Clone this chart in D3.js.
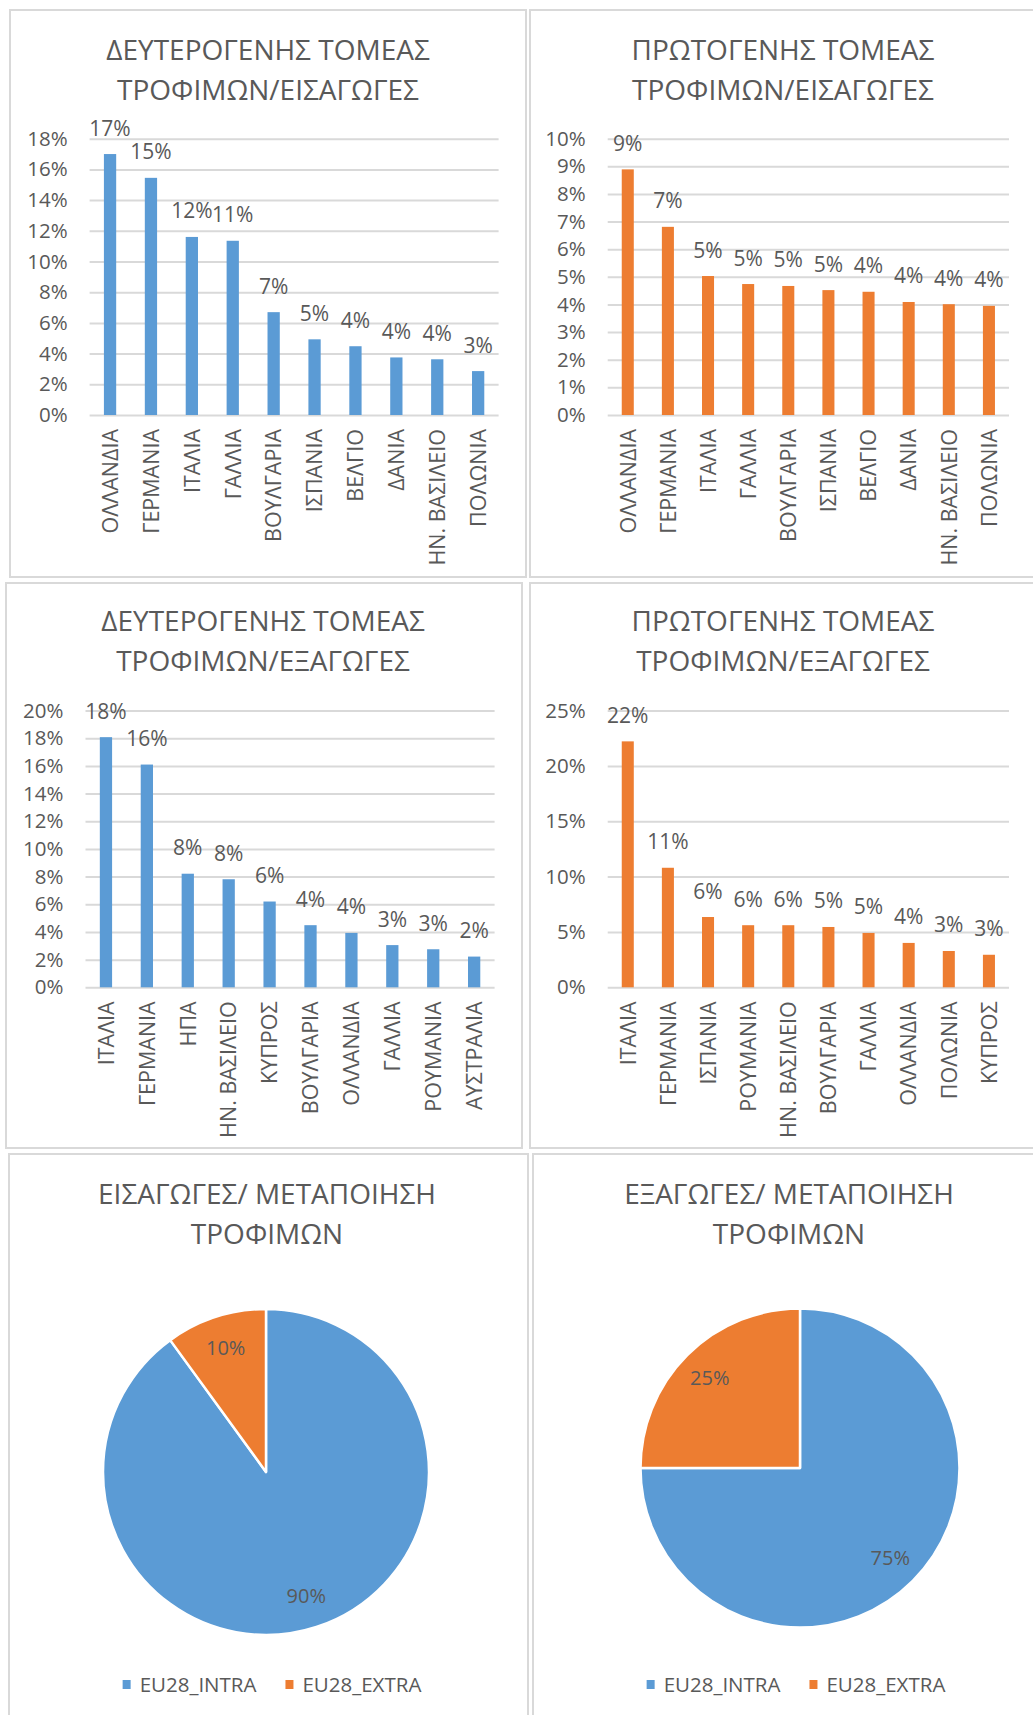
<!DOCTYPE html>
<html>
<head>
<meta charset="utf-8">
<script src="https://cdn.jsdelivr.net/npm/d3@7"></script>
<style>
  body { margin: 0; background: #fff; }
  svg text { font-family: "Open Sans", "Noto Sans", sans-serif; fill: #595959; }
</style>
</head>
<body>
<div id="charts"></div>
<script>
// chart 1 - secondary sector / imports
var secImpCats = ["ΟΛΛΑΝΔΙΑ", "ΓΕΡΜΑΝΙΑ", "ΙΤΑΛΙΑ", "ΓΑΛΛΙΑ", "ΒΟΥΛΓΑΡΙΑ", "ΙΣΠΑΝΙΑ", "ΒΕΛΓΙΟ", "ΔΑΝΙΑ", "ΗΝ. ΒΑΣΙΛΕΙΟ", "ΠΟΛΩΝΙΑ"];
var secImpVals = [17.0, 15.45, 11.6, 11.35, 6.7, 4.93, 4.48, 3.75, 3.63, 2.86];
var secImpTicks = [0, 2, 4, 6, 8, 10, 12, 14, 16, 18];

// chart 2 - primary sector / imports
var priImpCats = ["ΟΛΛΑΝΔΙΑ", "ΓΕΡΜΑΝΙΑ", "ΙΤΑΛΙΑ", "ΓΑΛΛΙΑ", "ΒΟΥΛΓΑΡΙΑ", "ΙΣΠΑΝΙΑ", "ΒΕΛΓΙΟ", "ΔΑΝΙΑ", "ΗΝ. ΒΑΣΙΛΕΙΟ", "ΠΟΛΩΝΙΑ"];
var priImpVals = [8.89, 6.81, 5.03, 4.74, 4.67, 4.52, 4.46, 4.09, 4.01, 3.95];
var priImpTicks = [0, 1, 2, 3, 4, 5, 6, 7, 8, 9, 10];

// chart 3 - secondary sector / exports
var secExpCats = ["ΙΤΑΛΙΑ", "ΓΕΡΜΑΝΙΑ", "ΗΠΑ", "ΗΝ. ΒΑΣΙΛΕΙΟ", "ΚΥΠΡΟΣ", "ΒΟΥΛΓΑΡΙΑ", "ΟΛΛΑΝΔΙΑ", "ΓΑΛΛΙΑ", "ΡΟΥΜΑΝΙΑ", "ΑΥΣΤΡΑΛΙΑ"];
var secExpVals = [18.08, 16.1, 8.21, 7.81, 6.2, 4.49, 3.93, 3.05, 2.75, 2.22];
var secExpTicks = [0, 2, 4, 6, 8, 10, 12, 14, 16, 18, 20];

// chart 4 - primary sector / exports
var priExpCats = ["ΙΤΑΛΙΑ", "ΓΕΡΜΑΝΙΑ", "ΙΣΠΑΝΙΑ", "ΡΟΥΜΑΝΙΑ", "ΗΝ. ΒΑΣΙΛΕΙΟ", "ΒΟΥΛΓΑΡΙΑ", "ΓΑΛΛΙΑ", "ΟΛΛΑΝΔΙΑ", "ΠΟΛΩΝΙΑ", "ΚΥΠΡΟΣ"];
var priExpVals = [22.22, 10.8, 6.35, 5.61, 5.61, 5.45, 4.91, 4.01, 3.28, 2.94];
var priExpTicks = [0, 5, 10, 15, 20, 25];

// pies
var pieCats = ["EU28_INTRA", "EU28_EXTRA"];
var pieImpVals = [90, 10];
var pieExpVals = [75, 25];

var blue = "#5B9BD5", orange = "#ED7D31", grid = "#D9D9D9";

var svg = d3.select("#charts")
            .append("svg")
            .attr("width", 1033)
            .attr("height", 1715);

function panel(x, y, w, h) {
    svg.append("rect")
       .attr("x", x).attr("y", y)
       .attr("width", w).attr("height", h)
       .attr("fill", "#fff")
       .attr("stroke", grid)
       .attr("stroke-width", 2);
}

function title(lines, cx, y) {
    var t = svg.append("text")
               .attr("text-anchor", "middle")
               .style("font-size", "28px");
    lines.forEach(function(l, i) {
        t.append("tspan").attr("x", cx).attr("y", y + i * 39.5).text(l);
    });
}

var barChart = function(c) {
    panel(c.panel[0], c.panel[1], c.panel[2], c.panel[3]);
    title(c.title, c.titleX, c.titleY);

    var g = svg.append("g");
    var xScale = d3.scaleBand()
                   .domain(c.cats)
                   .range([c.left, c.right])
                   .paddingInner(0.7)
                   .paddingOuter(0.35);
    var yScale = d3.scaleLinear()
                   .domain([0, d3.max(c.ticks)])
                   .range([c.bottom, c.top]);

    // gridlines + y labels
    var yAxis = g.append("g")
                 .attr("transform", "translate(" + c.left + ",0)")
                 .call(d3.axisLeft(yScale)
                         .tickValues(c.ticks)
                         .tickSize(-(c.right - c.left))
                         .tickPadding(22)
                         .tickFormat(d => d + "%"));
    yAxis.select(".domain").remove();
    yAxis.selectAll("line").attr("stroke", grid).attr("stroke-width", 2);
    yAxis.selectAll("text")
         .attr("fill", null)
         .style("font-size", "20.5px")
         .style("font-family", null);

    var xAxis = g.append("g")
                 .attr("transform", "translate(0," + c.bottom + ")")
                 .call(d3.axisBottom(xScale).tickSize(0));
    xAxis.select(".domain").remove();
    xAxis.selectAll("text")
         .attr("fill", null)
         .style("font-size", "21.5px")
         .style("font-family", null)
         .attr("transform", "rotate(-90)")
         .attr("x", -14)
         .attr("y", 0)
         .attr("dy", "0.36em")
         .style("text-anchor", "end");

    var data = c.cats.map((d, i) => [d, c.vals[i]]);
    g.selectAll(".bar")
     .data(data)
     .enter()
     .append("rect")
     .attr("x", d => xScale(d[0]))
     .attr("y", d => yScale(d[1]))
     .attr("width", xScale.bandwidth())
     .attr("height", d => c.bottom - yScale(d[1]))
     .attr("fill", c.color);

    g.selectAll(".lbl")
     .data(data)
     .enter()
     .append("text")
     .attr("x", d => xScale(d[0]) + xScale.bandwidth() / 2)
     .attr("y", d => yScale(d[1]) - 18.5)
     .attr("text-anchor", "middle")
     .style("font-size", "21px")
     .text(d => Math.round(d[1]) + "%");
}

var pieChart = function(c) {
    panel(c.panel[0], c.panel[1], c.panel[2], c.panel[3]);
    title(c.title, c.titleX, c.titleY);

    var colors = d3.scaleOrdinal().domain(pieCats).range([blue, orange]);
    var data = pieCats.map((d, i) => ({name: d, value: c.vals[i]}));
    var arcs = d3.pie().sort(null).value(d => d.value)(data);
    var arc = d3.arc().innerRadius(0).outerRadius(c.r);
    var lblArc = d3.arc().innerRadius(c.r * 0.8).outerRadius(c.r * 0.8);

    var g = svg.append("g")
               .attr("transform", "translate(" + c.cx + "," + c.cy + ")");
    g.selectAll("path")
     .data(arcs)
     .enter()
     .append("path")
     .attr("d", arc)
     .attr("fill", d => colors(d.data.name))
     .attr("stroke", "#fff")
     .attr("stroke-width", 2.5)
     .attr("stroke-linejoin", "round");
    g.selectAll("text")
     .data(arcs)
     .enter()
     .append("text")
     .attr("transform", d => "translate(" + lblArc.centroid(d) + ")")
     .attr("text-anchor", "middle")
     .attr("dy", "0.35em")
     .style("font-size", "20px")
     .text(d => Math.round(d.data.value) + "%");

    // legend, centered on c.legendX
    var leg = svg.append("g");
    var xPos = 0;
    pieCats.forEach(function(name, i) {
        var item = leg.append("g").attr("transform", "translate(" + xPos + ",0)");
        item.append("rect")
            .attr("x", 0).attr("y", -4.5)
            .attr("width", 8).attr("height", 9)
            .attr("fill", colors(name));
        var t = item.append("text")
                    .attr("x", 17)
                    .attr("dy", "0.35em")
                    .style("font-size", "20.5px")
                    .text(name);
        xPos += 17 + t.node().getComputedTextLength() + 29;
    });
    var legW = xPos - 29;
    leg.attr("transform", "translate(" + (c.legendX - legW / 2) + "," + c.legendY + ")");
}

barChart({panel: [10, 10, 516, 567], title: ["ΔΕΥΤΕΡΟΓΕΝΗΣ ΤΟΜΕΑΣ", "ΤΡΟΦΙΜΩΝ/ΕΙΣΑΓΩΓΕΣ"], titleX: 268, titleY: 60,
          left: 89.6, right: 498.6, top: 138.7, bottom: 415,
          cats: secImpCats, vals: secImpVals, ticks: secImpTicks, color: blue});
barChart({panel: [530, 10, 516, 567], title: ["ΠΡΩΤΟΓΕΝΗΣ ΤΟΜΕΑΣ", "ΤΡΟΦΙΜΩΝ/ΕΙΣΑΓΩΓΕΣ"], titleX: 783, titleY: 60,
          left: 607.7, right: 1009, top: 138.7, bottom: 415,
          cats: priImpCats, vals: priImpVals, ticks: priImpTicks, color: orange});
barChart({panel: [6, 583, 516, 565], title: ["ΔΕΥΤΕΡΟΓΕΝΗΣ ΤΟΜΕΑΣ", "ΤΡΟΦΙΜΩΝ/ΕΞΑΓΩΓΕΣ"], titleX: 263, titleY: 631,
          left: 85.5, right: 494.6, top: 710.6, bottom: 987.3,
          cats: secExpCats, vals: secExpVals, ticks: secExpTicks, color: blue});
barChart({panel: [530, 583, 516, 565], title: ["ΠΡΩΤΟΓΕΝΗΣ ΤΟΜΕΑΣ", "ΤΡΟΦΙΜΩΝ/ΕΞΑΓΩΓΕΣ"], titleX: 783, titleY: 631,
          left: 607.7, right: 1009, top: 710.6, bottom: 987.3,
          cats: priExpCats, vals: priExpVals, ticks: priExpTicks, color: orange});

pieChart({panel: [9, 1154, 519, 600], title: ["ΕΙΣΑΓΩΓΕΣ/ ΜΕΤΑΠΟΙΗΣΗ", "ΤΡΟΦΙΜΩΝ"], titleX: 267, titleY: 1204,
          cx: 266, cy: 1472, r: 163, vals: pieImpVals, legendX: 272, legendY: 1684.5});
pieChart({panel: [533, 1154, 516, 600], title: ["ΕΞΑΓΩΓΕΣ/ ΜΕΤΑΠΟΙΗΣΗ", "ΤΡΟΦΙΜΩΝ"], titleX: 789, titleY: 1204,
          cx: 800, cy: 1468, r: 159.5, vals: pieExpVals, legendX: 796, legendY: 1684.5});
</script>
</body>
</html>
